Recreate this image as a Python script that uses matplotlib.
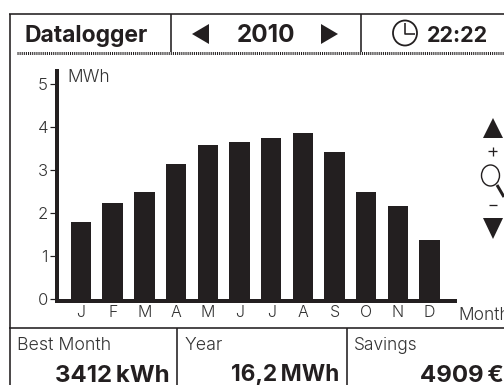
#!/usr/bin/env python

import matplotlib
matplotlib.use('Agg')
import matplotlib.pyplot as plt
from matplotlib.patches import Polygon, Ellipse

months = ['J', 'F', 'M', 'A', 'M', 'J', 'J', 'A', 'S', 'O', 'N', 'D']
energy = [1.79, 2.24, 2.49, 3.15, 3.57, 3.66, 3.75, 3.87, 3.42, 2.49, 2.16, 1.38]
y_ticks = [0, 1, 2, 3, 4, 5]

INK = '#231f20'
W, H = 504, 385
PX = 0.72  # one pixel in points at dpi 100

plt.rcParams['font.family'] = ['Inter', 'Liberation Sans', 'DejaVu Sans']

fig = plt.figure(figsize=(W / 100, H / 100), dpi=100, facecolor='white')


def box(x0, y_top, x1, y_bottom):
	return [x0 / W, 1 - y_bottom / H, (x1 - x0) / W, (y_bottom - y_top) / H]


# the bar chart
ax = fig.add_axes(box(57, 71, 455, 299))
ax.set_facecolor('none')
ax.bar(range(len(energy)), energy, width=0.645, color=INK, edgecolor='none', zorder=1)
ax.set_xlim(-0.757, 11.8)
ax.set_ylim(0, 228 / 43)
ax.set_xticks(range(len(months)))
ax.set_xticklabels(months)
ax.set_yticks(y_ticks)
ax.spines['top'].set_visible(False)
ax.spines['right'].set_visible(False)
ax.spines['left'].set_linewidth(4 * PX)
ax.spines['bottom'].set_linewidth(4 * PX)
ax.spines['left'].set_color(INK)
ax.spines['bottom'].set_color(INK)
ax.spines['bottom'].set_position(('outward', 1.5 * PX))
ax.tick_params(axis='x', length=0, pad=3, labelsize=11.5, labelcolor='#333333')
ax.tick_params(axis='y', length=7 * PX, width=1.2 * PX, color=INK, pad=1.5, labelsize=12, labelcolor='#333333')
for lab in ax.get_xticklabels() + ax.get_yticklabels():
	lab.set_fontweight(300)

# everything around the chart, in pixel coordinates
ui = fig.add_axes([0, 0, 1, 1], zorder=-1)
ui.set_xlim(0, W)
ui.set_ylim(H, 0)
ui.axis('off')


def line(xs, ys, lw=1.6, **kw):
	ui.plot(xs, ys, color=INK, lw=lw * PX, solid_capstyle='butt', **kw)


line([9.5, 9.5], [14, 385])
line([9, 504], [14, 14])
line([171, 171], [14, 52])
line([361, 361], [14, 52])
line([17, 504], [52.5, 52.5], lw=3, linestyle=(0, (0.35, 0.35)))
line([9, 504], [328, 328])
line([177, 177], [328, 385])
line([347, 347], [328, 385])


def tri(points):
	ui.add_patch(Polygon(points, closed=True, color=INK, lw=0))


tri([(192, 34), (209, 24), (209, 44)])
tri([(321, 24), (321, 44), (338, 34)])
tri([(493, 118), (483, 138), (503, 138)])
tri([(483, 218), (503, 218), (493, 239)])

# clock
ui.add_patch(Ellipse((405, 33), 24, 25, fill=False, ec=INK, lw=1.8 * PX))
line([405, 405, 415], [23, 34, 34], lw=1.6)

# zoom icon
line([488, 497], [151, 151], lw=1.3)
line([492.5, 492.5], [147, 155.5], lw=1.3)
line([489, 497], [205, 205], lw=1.3)
ui.add_patch(Ellipse((490.5, 175.5), 18, 21, fill=False, ec=INK, lw=1.4 * PX))
line([497, 504], [185, 197], lw=3)

head = dict(fontweight=700, color=INK, va='baseline')
ui.text(24, 42, 'Datalogger', ha='left', fontsize=16.5, **head)
ui.text(266, 42, '2010', ha='center', fontsize=17.5, **head)
ui.text(427, 42, '22:22', ha='left', fontsize=15.5, **head)

thin = dict(fontsize=12.5, fontweight=300, color='#333333', va='baseline')
ui.text(67, 82.5, 'MWh', ha='left', **thin)
ui.text(458, 320, 'Month', ha='left', **thin)

small = dict(fontweight=300, color='#333333', va='baseline')
ui.text(17, 350, 'Best Month', ha='left', fontsize=12.8, **small)
ui.text(185, 350, 'Year', ha='left', fontsize=12.8, **small)
ui.text(354, 350, 'Savings', ha='left', fontsize=12.5, **small)

big = dict(fontweight=700, color=INK, va='baseline')
ui.text(170, 381.5, '3412\u2009kWh', ha='right', fontsize=17.3, **big)
ui.text(339, 381.5, '16,2\u2009MWh', ha='right', fontsize=16.3, **big)
ui.text(420, 381.5, '4909\u2009€', ha='left', fontsize=17.3, **big)

fig.savefig('out.png', dpi=100)
